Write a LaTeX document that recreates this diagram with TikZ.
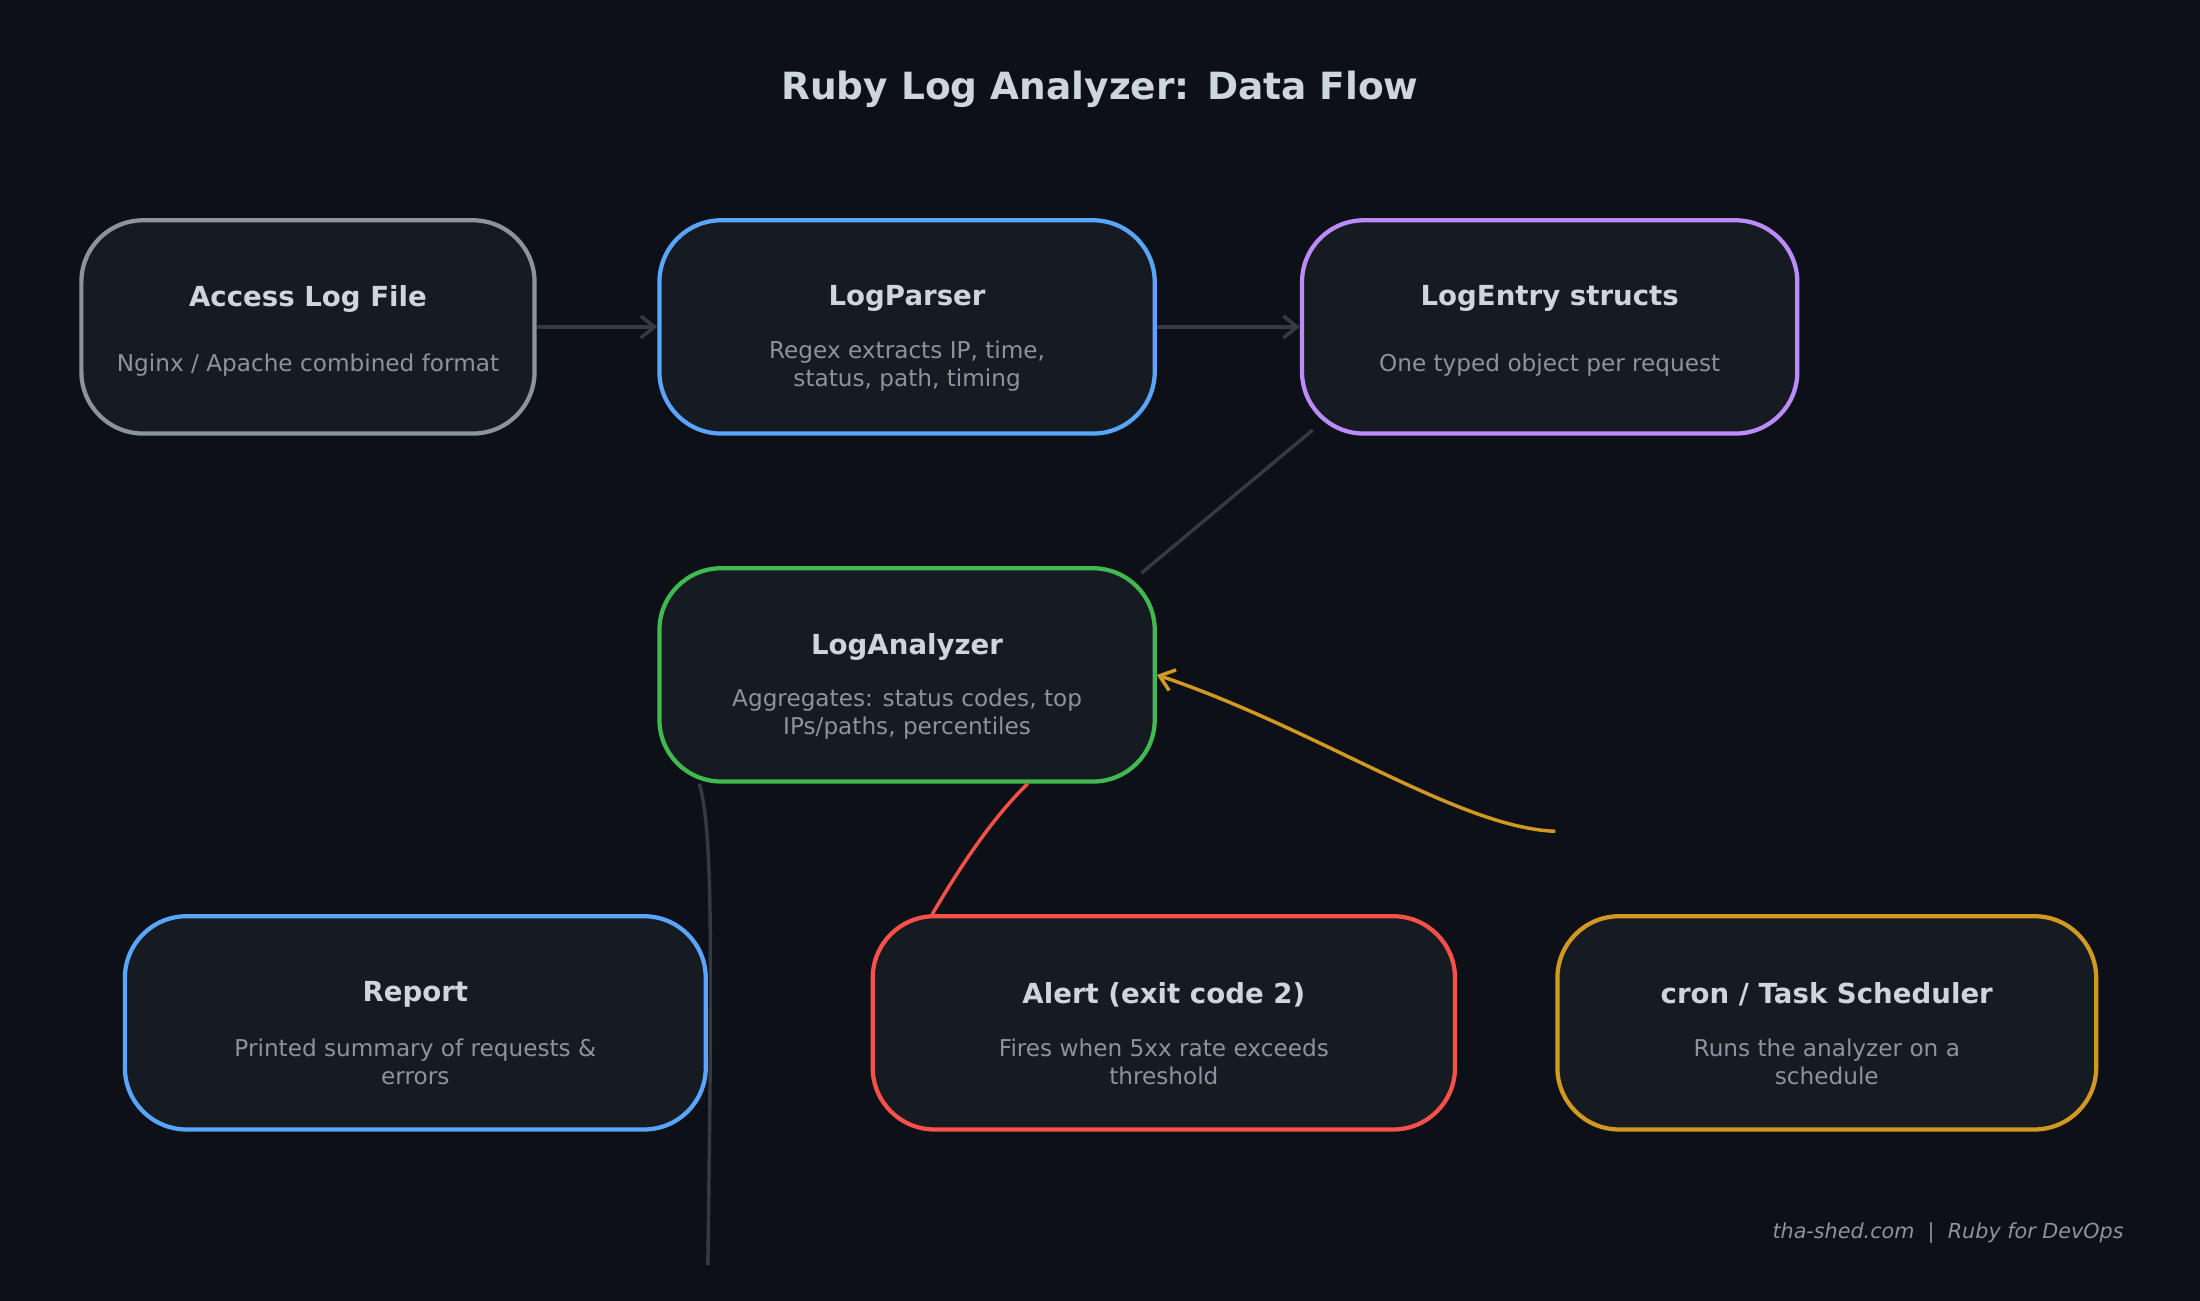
\documentclass[tikz,border=0pt]{standalone}
\usepackage{fontspec}
\setmainfont{DejaVu Sans}
\usetikzlibrary{arrows.meta}
\definecolor{bg}{HTML}{0D1117}
\definecolor{boxfill}{HTML}{161B22}
\definecolor{titlec}{HTML}{CDD5DE}
\definecolor{subc}{HTML}{8B949E}
\definecolor{edgec}{HTML}{353A42}
\definecolor{cgray}{HTML}{8B949E}
\definecolor{cblue}{HTML}{58A6FF}
\definecolor{cpurple}{HTML}{BC8CFF}
\definecolor{cgreen}{HTML}{3FB950}
\definecolor{cred}{HTML}{F85149}
\definecolor{cgold}{HTML}{D29922}
\begin{document}
\begin{tikzpicture}[x=0.05cm,y=-0.05cm,
  box/.style={draw=#1,fill=boxfill,line width=4.3pt,rounded corners=2.2cm,inner sep=0pt},
  ttl/.style={text=titlec,font=\fontsize{28}{32}\selectfont\bfseries},
  sub/.style={text=subc,font=\fontsize{23.5}{28}\selectfont,align=center},
  edge/.style={draw=edgec,line width=3.5pt},
  arr/.style={-{Straight Barb[length=14pt,width=22pt,line width=3.5pt]}}]
\fill[bg] (0,0) rectangle (1568,927);
\node[text=titlec,font=\fontsize{38}{44}\selectfont\bfseries] (title) at (784,64) {Ruby Log Analyzer: Data Flow};
\newcommand\mkbox[8]{%
  \node[box=#2,minimum width=#5*0.05cm,minimum height=152*0.05cm] (#1) at (#3,#4) {};
  \node[ttl] (#1t) at (#3,#4-20) {#6};
  \node[sub] (#1s) at (#3,#4+#8) {#7};}
\mkbox{acc}{cgray}{219.5}{233}{323}{Access Log File}{Nginx / Apache combined format}{27}
\mkbox{par}{cblue}{646.5}{233}{353}{LogParser}{Regex extracts IP, time,\\status, path, timing}{28}
\mkbox{ent}{cpurple}{1104.5}{233}{353}{LogEntry structs}{One typed object per request}{27}
\mkbox{ana}{cgreen}{646.5}{481}{353}{LogAnalyzer}{Aggregates: status codes, top\\IPs/paths, percentiles}{28}
\mkbox{rep}{cblue}{296}{729}{414}{Report}{Printed summary of requests \&\\errors}{28}
\mkbox{alr}{cred}{829.5}{729}{415}{Alert (exit code 2)}{Fires when 5xx rate exceeds\\threshold}{28}
\mkbox{cron}{cgold}{1302}{729}{384}{cron / Task Scheduler}{Runs the analyzer on a\\schedule}{28}
\node[text=subc,font=\fontsize{21}{24}\selectfont\itshape,anchor=east] (foot) at (1516,879) {tha-shed.com \ | \ Ruby for DevOps};
\draw[edge,arr] (acc.east) -- (par.west);
\draw[edge,arr] (par.east) -- (ent.west);
\draw[edge] (ent.south west) ++(9,-4) coordinate (e1) (ana.north east) ++(-11,5) coordinate (e2);
\draw[edge] (e1) -- (e2);
\draw[edge] ([xshift=30*0.05cm]ana.south west) .. controls (507,590) and (508,650) .. ([yshift=-95*0.05cm]rep.south east);
\draw[draw=cred,line width=3.5pt] ([xshift=-92*0.05cm]ana.south east) .. controls (705,585) and (680,625) .. ([xshift=44*0.05cm]alr.north west);
\draw[draw=cgold,line width=3.5pt,arr] ([yshift=59*0.05cm]cron.north west) .. controls (1040,590) and (940,520) .. (ana.east);
\end{tikzpicture}
\end{document}
